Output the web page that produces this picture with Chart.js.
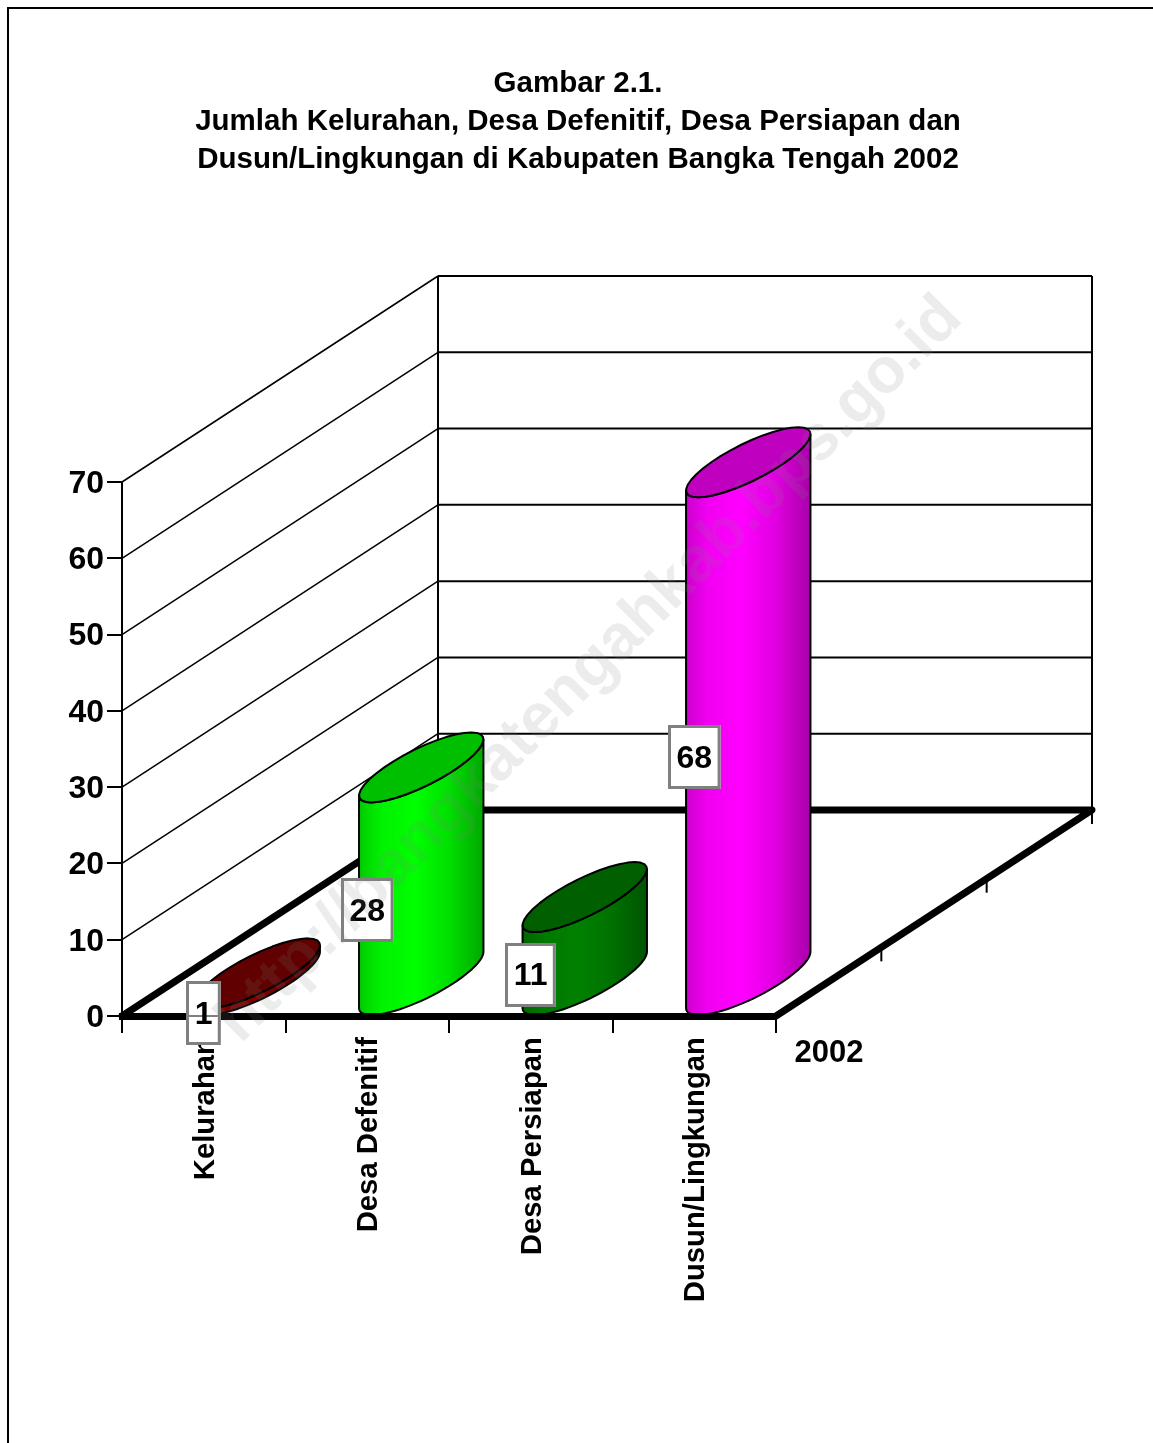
<!DOCTYPE html>
<html>
<head>
<meta charset="utf-8">
<title>Gambar 2.1.</title>
<style>
  html, body { margin: 0; padding: 0; background: #fff; }
  canvas { display: block; }
</style>
<script src="https://cdn.jsdelivr.net/npm/chart.js@4"></script>
</head>
<body>
<canvas id="chart" width="1153" height="1443"></canvas>
<script>
var titleLines = [
  'Gambar 2.1.',
  'Jumlah Kelurahan, Desa Defenitif, Desa Persiapan dan',
  'Dusun/Lingkungan di Kabupaten Bangka Tengah 2002'
];
var categories = ['Kelurahan', 'Desa Defenitif', 'Desa Persiapan', 'Dusun/Lingkungan'];
var seriesName = '2002';
var values = [1, 28, 11, 68];
var barColors = ['#800000', '#00ff00', '#008000', '#ff00ff'];
var yMax = 70, yStep = 10;
var watermark = 'http://bangkatengahkab.bps.go.id';

var FONT = '"Liberation Sans", Arial, sans-serif';
// depth of the fake 3d box and of the ring on top of each cylinder
var depthX = 316, depthY = 206;
var ringX = 50, ringY = 35, cylShift = 54;

function shade(hex, k) {
  var r = parseInt(hex.substr(1, 2), 16), g = parseInt(hex.substr(3, 2), 16), b = parseInt(hex.substr(5, 2), 16);
  return 'rgb(' + Math.round(r * k) + ',' + Math.round(g * k) + ',' + Math.round(b * k) + ')';
}

function line(ctx, x1, y1, x2, y2) {
  ctx.beginPath();
  ctx.moveTo(x1, y1);
  ctx.lineTo(x2, y2);
  ctx.stroke();
}

function ringArc(ctx, cx, cy, ux, from, to, start) {
  var steps = 36;
  for (var i = 0; i <= steps; i++) {
    var t = from + (to - from) * i / steps;
    var px = cx + ux * Math.cos(t) + ringX * Math.sin(t);
    var py = cy - ringY * Math.sin(t);
    if (i === 0 && start) ctx.moveTo(px, py); else ctx.lineTo(px, py);
  }
}

function drawCylinder(ctx, bar, color) {
  var ux = bar.width / 2;
  var cx = bar.x + cylShift;
  var topY = bar.y - ringY, baseY = bar.base - ringY;
  var t0 = Math.atan2(ringX, ux);
  var r = Math.sqrt(ux * ux + ringX * ringX);

  var grad = ctx.createLinearGradient(cx - r, 0, cx + r, 0);
  grad.addColorStop(0, shade(color, 0.8));
  grad.addColorStop(0.18, shade(color, 0.95));
  grad.addColorStop(0.45, shade(color, 1));
  grad.addColorStop(0.72, shade(color, 0.88));
  grad.addColorStop(1, shade(color, 0.66));

  ctx.lineWidth = 2;
  ctx.strokeStyle = '#000';
  ctx.lineJoin = 'round';

  // body
  ctx.beginPath();
  ringArc(ctx, cx, baseY, ux, t0 - Math.PI, t0, true);
  ringArc(ctx, cx, topY, ux, t0, t0 - Math.PI, false);
  ctx.closePath();
  ctx.fillStyle = grad;
  ctx.fill();
  ctx.stroke();

  // top face
  ctx.beginPath();
  ringArc(ctx, cx, topY, ux, 0, Math.PI * 2, true);
  ctx.closePath();
  ctx.fillStyle = shade(color, 0.75);
  ctx.fill();
  ctx.stroke();
}

var box3d = {
  id: 'box3d',
  beforeDatasetsDraw: function (chart) {
    var ctx = chart.ctx, x = chart.scales.x, y = chart.scales.y;
    var base = y.getPixelForValue(0), top = y.getPixelForValue(yMax);
    ctx.save();
    ctx.strokeStyle = '#000';
    ctx.lineWidth = 2;

    // page frame, left and top only
    ctx.beginPath();
    ctx.moveTo(8, chart.height);
    ctx.lineTo(8, 8);
    ctx.lineTo(chart.width, 8);
    ctx.stroke();

    // side wall and back wall
    y.ticks.forEach(function (tick) {
      if (tick.value === 0) return;
      var py = y.getPixelForValue(tick.value);
      ctx.lineWidth = 1.5;
      line(ctx, x.left, py, x.left + depthX, py - depthY);
      ctx.lineWidth = 2;
      line(ctx, x.left + depthX, py - depthY, x.right + depthX, py - depthY);
    });
    line(ctx, x.left + depthX, top - depthY, x.left + depthX, base - depthY);
    line(ctx, x.right + depthX, top - depthY, x.right + depthX, base - depthY + 14);

    // ticks on the depth edge
    for (var i = 1; i <= 2; i++) {
      var tx = x.right + depthX * i / 3, ty = base - depthY * i / 3;
      line(ctx, tx, ty, tx, ty + 14);
    }

    // floor
    ctx.lineWidth = 7;
    ctx.lineCap = 'round';
    ctx.lineJoin = 'round';
    ctx.beginPath();
    ctx.moveTo(x.left, base);
    ctx.lineTo(x.left + depthX, base - depthY);
    ctx.lineTo(x.right + depthX, base - depthY);
    ctx.lineTo(x.right, base);
    ctx.stroke();
    ctx.restore();
  },
  beforeDatasetDraw: function (chart, args) {
    var ctx = chart.ctx;
    ctx.save();
    args.meta.data.forEach(function (bar, i) {
      drawCylinder(ctx, bar, barColors[i]);
    });
    ctx.restore();
    return false;
  },
  afterDraw: function (chart) {
    var ctx = chart.ctx, x = chart.scales.x, y = chart.scales.y;
    var base = y.getPixelForValue(0);
    ctx.save();

    // series name at the end of the depth axis
    ctx.fillStyle = '#000';
    ctx.font = 'bold 31px ' + FONT;
    ctx.textAlign = 'center';
    ctx.textBaseline = 'middle';
    ctx.fillText(chart.data.datasets[0].label, x.right + 53, base + 37);

    // value boxes
    ctx.font = 'bold 32px ' + FONT;
    chart.getDatasetMeta(0).data.forEach(function (bar, i) {
      var text = String(values[i]);
      var w = ctx.measureText(text).width + 17, h = 64;
      var mid = (bar.y + bar.base) / 2 + 1;
      var bx = Math.round(bar.x - w / 2), by = Math.round(mid - h / 2);
      ctx.fillStyle = '#fff';
      ctx.fillRect(bx, by, w, h);
      ctx.strokeStyle = '#808080';
      ctx.lineWidth = 3;
      ctx.strokeRect(bx + 1.5, by + 1.5, w - 3, h - 3);
      if (by < base && by + h > base) {
        ctx.strokeStyle = '#000';
        ctx.lineWidth = 1;
        line(ctx, bx + 3, base, bx + w - 3, base);
      }
      ctx.fillStyle = '#000';
      ctx.fillText(text, bar.x, mid + 2);
    });

    // watermark of the source site, across everything
    ctx.translate(590, 670);
    ctx.rotate(-Math.PI / 4);
    ctx.font = 'bold 64px ' + FONT;
    ctx.fillStyle = 'rgba(128,128,128,0.15)';
    ctx.fillText(watermark, 0, 0);
    ctx.restore();
  }
};

new Chart(document.getElementById('chart'), {
  type: 'bar',
  plugins: [box3d],
  data: {
    labels: categories,
    datasets: [{
      label: seriesName,
      data: values,
      backgroundColor: barColors,
      categoryPercentage: 1,
      barPercentage: 0.4526
    }]
  },
  options: {
    responsive: false,
    animation: false,
    layout: { padding: { left: 3, top: 0, right: 0, bottom: 0 } },
    plugins: {
      legend: { display: false },
      tooltip: { enabled: false },
      title: {
        display: true,
        text: titleLines,
        color: '#000',
        font: { family: FONT, size: 29.5, weight: 'bold', lineHeight: 38 / 29.5 },
        padding: { top: 65, bottom: 303 }
      }
    },
    scales: {
      x: {
        offset: true,
        grid: { drawOnChartArea: false, color: '#000', lineWidth: 2, tickLength: 17 },
        border: { color: '#000', width: 7, z: 1 },
        ticks: {
          color: '#000',
          font: { family: FONT, size: 29.3, weight: 'bold' },
          minRotation: 90,
          maxRotation: 90,
          padding: 4,
          labelOffset: 2
        },
        afterFit: function (scale) { scale.height = 427; }
      },
      y: {
        min: 0,
        max: yMax,
        grid: { drawOnChartArea: false, color: '#000', lineWidth: 2, tickLength: 15 },
        border: { color: '#000', width: 2 },
        ticks: {
          stepSize: yStep,
          color: '#000',
          font: { family: FONT, size: 32, weight: 'bold' },
          padding: 3,
          labelOffset: 2
        },
        afterFit: function (scale) { scale.width = 119; }
      },
      // empty axis, only keeps the room right of the plot
      rightRoom: {
        position: 'right',
        grid: { display: false },
        border: { display: false },
        ticks: { display: false },
        afterFit: function (scale) { scale.width = 377; }
      }
    }
  }
});
</script>
</body>
</html>
